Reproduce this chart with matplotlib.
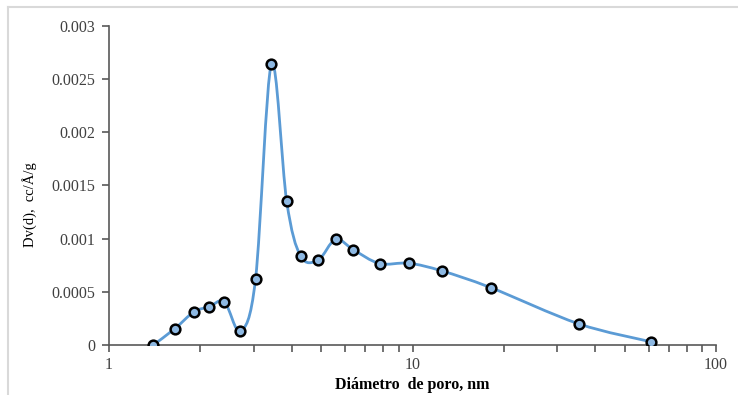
import numpy as np
import matplotlib
matplotlib.use('Agg')
import matplotlib.pyplot as plt
from matplotlib.path import Path
from matplotlib.patches import PathPatch
from matplotlib.lines import Line2D
from matplotlib.ticker import LogLocator, NullFormatter, FixedLocator

plt.rcParams['font.family'] = ['Liberation Serif', 'DejaVu Serif']

# pore diameter (nm) and Dv(d) (cc/A/g)
diam = [1.40, 1.65, 1.905, 2.14, 2.40, 2.71, 3.04, 3.43, 3.85, 4.28,
        4.89, 5.58, 6.39, 7.79, 9.72, 12.49, 18.16, 35.3, 61.1]
dv = [0.0, 0.000155, 0.000312, 0.000359, 0.000406, 0.00013, 0.000622,
      0.002643, 0.00135, 0.000835, 0.0008, 0.000994, 0.000895, 0.000766,
      0.000769, 0.000697, 0.000538, 0.000199, 0.00003]

ytick_vals = [0, 0.0005, 0.001, 0.0015, 0.002, 0.0025, 0.003]
ytick_labels = ['0', '0.0005', '0.001', '0.0015', '0.002', '0.0025', '0.003']
xtick_vals = [1, 10, 100]
xtick_labels = ['1', '10', '100']

blue = '#5B9BD5'
txt = '#404040'

fig = plt.figure(figsize=(7.38, 3.95), dpi=100)
# chart frame: only top and left edges show in the crop
fig.lines.append(Line2D([0.011, 1.0], [0.982, 0.982], transform=fig.transFigure,
                        color='#d9d9d9', lw=1.5))
fig.lines.append(Line2D([0.011, 0.011], [0.0, 0.982], transform=fig.transFigure,
                        color='#d9d9d9', lw=1.5))
ax = fig.add_axes([0.1477, 0.1266, 0.8225, 0.8076])

# smoothed line like the spreadsheet one: cubic bezier through the points,
# built in (log10 x, y) space
lx = np.log10(diam)
yy = np.array(dv)
n = len(lx)
verts = [(diam[0], dv[0])]
codes = [Path.MOVETO]
for i in range(n - 1):
    p0 = (lx[max(i - 1, 0)], yy[max(i - 1, 0)])
    p1 = (lx[i], yy[i])
    p2 = (lx[i + 1], yy[i + 1])
    p3 = (lx[min(i + 2, n - 1)], yy[min(i + 2, n - 1)])
    c1 = (p1[0] + (p2[0] - p0[0]) / 6, p1[1] + (p2[1] - p0[1]) / 6)
    c2 = (p2[0] - (p3[0] - p1[0]) / 6, p2[1] - (p3[1] - p1[1]) / 6)
    verts += [(10 ** c1[0], c1[1]), (10 ** c2[0], c2[1]), (10 ** p2[0], p2[1])]
    codes += [Path.CURVE4] * 3
ax.add_patch(PathPatch(Path(verts, codes), facecolor='none', edgecolor=blue,
                       lw=2, zorder=2, capstyle='round', joinstyle='round'))

ax.plot(diam, dv, linestyle='none', marker='o', markersize=7,
        markerfacecolor='#8DB8E2', markeredgecolor='black', markeredgewidth=1.8, zorder=3)

ax.set_xscale('log')
ax.set_xlim(1, 100)
ax.set_ylim(0, 0.003)
ax.xaxis.set_major_locator(FixedLocator(xtick_vals))
ax.set_xticklabels(xtick_labels)
ax.xaxis.set_minor_locator(LogLocator(base=10, subs=np.arange(2, 10)))
ax.xaxis.set_minor_formatter(NullFormatter())
ax.set_yticks(ytick_vals)
ax.set_yticklabels(ytick_labels)

for s in ['top', 'right']:
    ax.spines[s].set_visible(False)
for s in ['left', 'bottom']:
    ax.spines[s].set_color('#595959')
    ax.spines[s].set_linewidth(1.2)
ax.tick_params(axis='both', which='both', direction='out', length=5,
               color='#595959', width=1.2, labelsize=11.5, labelcolor=txt)
ax.tick_params(axis='x', pad=4)
ax.tick_params(axis='y', pad=5)

ax.set_xlabel('Diámetro  de poro, nm', fontsize=11.5, fontweight='bold', color='black')
ax.xaxis.set_label_coords(0.5, -0.10)
ax.set_ylabel('Dv(d),  cc/Å/g', fontsize=10.5, color='black')
ax.yaxis.set_label_coords(-0.118, 0.44)

fig.savefig('out.png', dpi=100)
